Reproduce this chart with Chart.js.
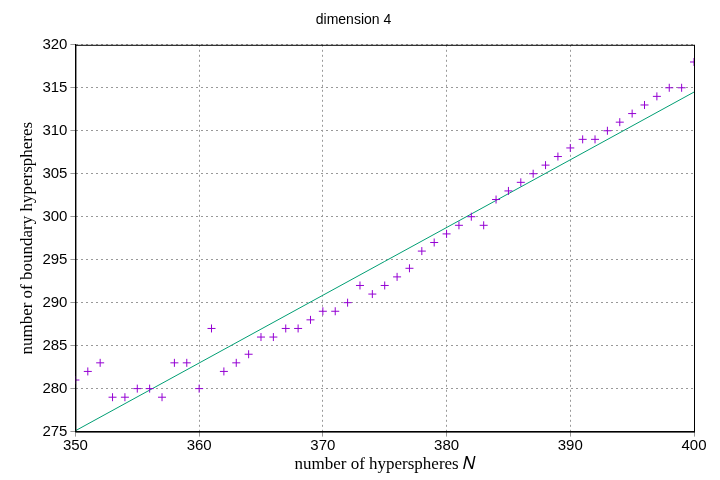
<!DOCTYPE html>
<html><head><script src="https://cdn.jsdelivr.net/npm/chart.js@4"></script>
<style>body{margin:0;background:#fff}#c{width:720px;height:480px}</style></head>
<body><div id="c"><canvas id="cv" width="720" height="480"></canvas></div>
<script>
const xs=[350,351,352,353,354,355,356,357,358,359,360,361,362,363,364,365,366,367,368,369,370,371,372,373,374,375,376,377,378,379,380,381,382,383,384,385,386,387,388,389,390,391,392,393,394,395,396,397,398,399,400];
const ys=[281,282,283,279,279,280,280,279,283,283,280,287,282,283,284,286,286,287,287,288,289,289,290,292,291,292,293,294,296,297,298,299,300,299,302,303,304,305,306,307,308,309,309,310,311,312,313,314,315,315,318];
const fitX=[350,400];
const fitY=[275.1,314.5];
const xTicks=[350,360,370,380,390,400];
new Chart(document.getElementById('cv'),{
type:'scatter',
data:{datasets:[
{data:xs.map((x,i)=>({x,y:ys[i]})),pointStyle:'cross',pointRadius:4,borderColor:'#9400d3',borderWidth:1,backgroundColor:'#9400d3'},
{type:'line',data:fitX.map((x,i)=>({x,y:fitY[i]})),borderColor:'#009e73',borderWidth:1,pointRadius:0,fill:false}
]},
options:{responsive:false,animation:false,devicePixelRatio:1,
layout:{padding:{right:26,top:7,left:13,bottom:3}},
plugins:{legend:{display:false},tooltip:{enabled:false},
title:{display:true,text:'dimension 4',color:'#000',font:{family:'Liberation Sans',size:14,weight:'normal'},padding:{top:5,bottom:16}}},
scales:{
x:{type:'linear',min:350,max:400,afterBuildTicks:a=>{a.ticks=xTicks.map(v=>({value:v}))},
ticks:{color:'#000',font:{family:'Liberation Sans',size:15},maxRotation:0,padding:0},
grid:{color:'#999',drawTicks:true,tickLength:5},border:{dash:[2,3],color:'#000'},
title:{display:true,text:'number of hyperspheres 𝑁',color:'#000',font:{family:'Liberation Serif',size:17},padding:{top:0,bottom:2}}},
y:{min:275,max:320,ticks:{stepSize:5,color:'#000',font:{family:'Liberation Sans',size:15}},
grid:{color:'#999',tickLength:5},border:{dash:[2,3],color:'#000'},
title:{display:true,text:'number of boundary hyperspheres',color:'#000',font:{family:'Liberation Serif',size:17},padding:{bottom:2}}}
}},
plugins:[{id:'frame',afterDraw(c){const a=c.chartArea,g=c.ctx;g.save();g.strokeStyle='#000';g.lineWidth=1;g.strokeRect(a.left+0.5,a.top+0.5,a.right-a.left,a.bottom-a.top);g.restore();}}]
});
</script></body></html>
